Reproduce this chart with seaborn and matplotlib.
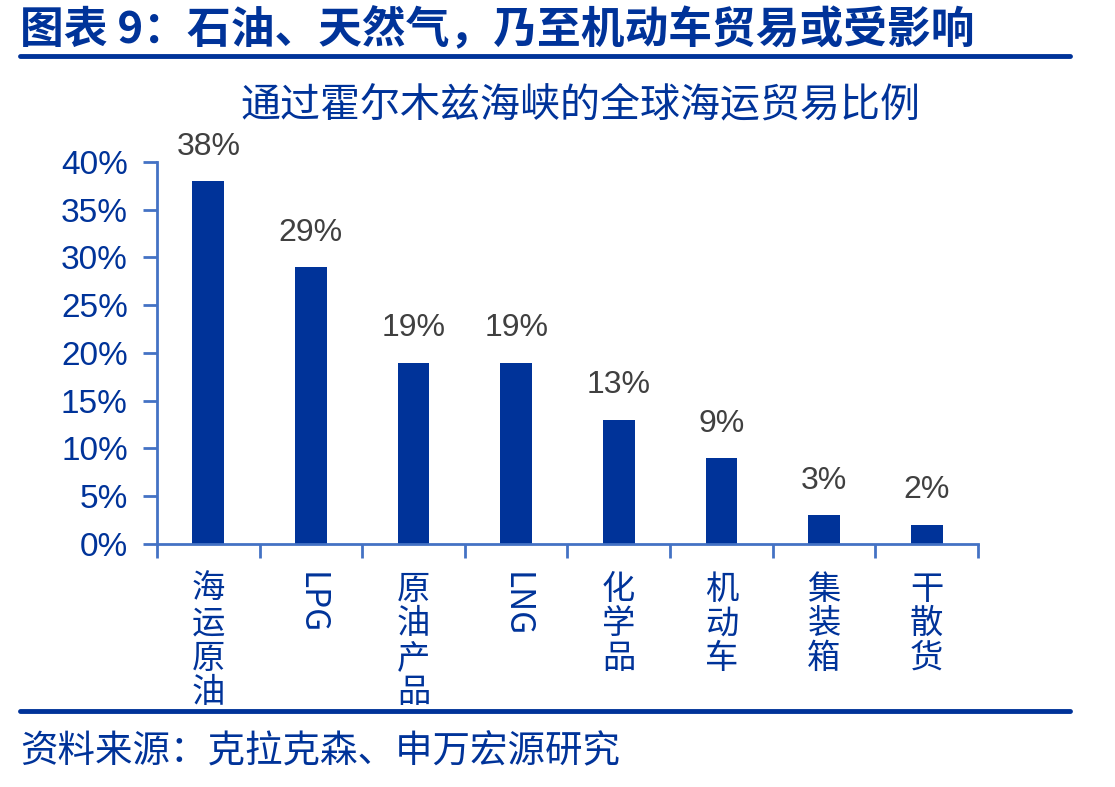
import matplotlib
matplotlib.use("Agg")
import matplotlib.pyplot as plt
import numpy as np
import pandas as pd
import seaborn as sns

categories = ["海运原油", "LPG", "原油产品", "LNG", "化学品", "机动车", "集装箱", "干散货"]
shares = [0.38, 0.29, 0.19, 0.19, 0.13, 0.09, 0.03, 0.02]
share_labels = ["38%", "29%", "19%", "19%", "13%", "9%", "3%", "2%"]
y_ticks = [0, 0.05, 0.10, 0.15, 0.20, 0.25, 0.30, 0.35, 0.40]
y_tick_labels = ["0%", "5%", "10%", "15%", "20%", "25%", "30%", "35%", "40%"]

NAVY = "#003399"
AXIS = "#4472C4"
GRAY = "#404040"

sns.set_style("white")
plt.rcParams["font.family"] = ["Liberation Sans", "Noto Sans CJK SC", "DejaVu Sans"]
CJK = ["Noto Sans CJK SC", "DejaVu Sans"]

df = pd.DataFrame({"cat": categories, "share": shares})

fig = plt.figure(figsize=(11.15, 7.87), dpi=100)
ax = fig.add_axes([0.1408, 0.3088, 0.7363, 0.4854])

sns.barplot(data=df, x="cat", y="share", color=NAVY, saturation=1,
            width=0.31, ax=ax)
for patch in ax.patches:
    patch.set_edgecolor("none")

ax.set_ylim(0, 0.40)
ax.set_xlim(-0.5, len(categories) - 0.5)
ax.set_yticks(y_ticks)
ax.set_yticklabels(y_tick_labels, fontsize=24, color=NAVY)
ax.set_xlabel("")
ax.set_ylabel("")

# value labels
ax.bar_label(ax.containers[0], labels=share_labels, padding=14,
             fontsize=23, color=GRAY)

# x labels: stacked CJK, rotated latin
def fmt(lbl):
    return lbl if lbl.isascii() else "\n".join(lbl)

ax.set_xticks(range(len(categories)))
ax.set_xticklabels([fmt(c) for c in categories], fontsize=24, color=NAVY,
                   family=CJK, linespacing=0.98, va="top")
for t, c in zip(ax.get_xticklabels(), categories):
    if c.isascii():
        t.set_rotation(270)
        t.set_ha("center")
ax.tick_params(axis="x", which="major", length=0, pad=20, bottom=True)
ax.set_xticks(np.arange(-0.5, len(categories), 1.0), minor=True)
ax.tick_params(axis="x", which="minor", length=10, width=2, color=AXIS,
               direction="out", bottom=True)
ax.tick_params(axis="y", length=10, width=2, color=AXIS, direction="out",
               left=True, pad=11)

for side in ["top", "right"]:
    ax.spines[side].set_visible(False)
for side in ["left", "bottom"]:
    ax.spines[side].set_color(AXIS)
    ax.spines[side].set_linewidth(2)

# header / footer
fig.text(0.018, 0.962, "图表 9：石油、天然气，乃至机动车贸易或受影响",
         fontsize=31.5, fontweight="bold", color=NAVY, family=CJK,
         ha="left", va="center")
fig.add_artist(plt.Line2D([0.018, 0.96], [0.929, 0.929], color=NAVY, lw=3.5))
fig.text(0.521, 0.866, "通过霍尔木兹海峡的全球海运贸易比例", fontsize=28.8,
         color=NAVY, family=CJK, ha="center", va="center")
fig.add_artist(plt.Line2D([0.018, 0.96], [0.096, 0.096], color=NAVY, lw=3.5))
fig.text(0.018, 0.044, "资料来源：克拉克森、申万宏源研究", fontsize=27,
         color=NAVY, family=CJK, ha="left", va="center")

fig.savefig("out.png", dpi=100)
